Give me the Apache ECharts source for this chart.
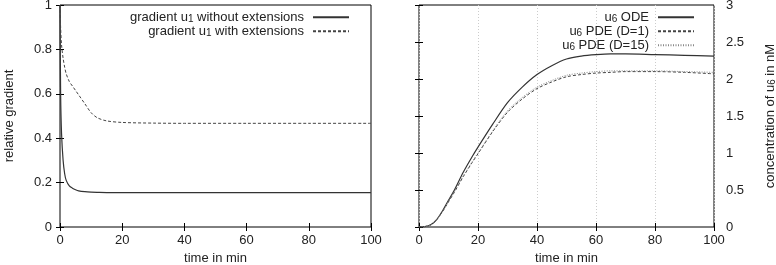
<!DOCTYPE html>
<html>
<head>
<meta charset="utf-8">
<script src="https://cdn.jsdelivr.net/npm/echarts@6/dist/echarts.min.js"></script>
<style>
  html, body { margin: 0; padding: 0; background: #fff; }
  #main { width: 776px; height: 265px; }
</style>
</head>
<body>
<div id="main"></div>
<script>
// 左图：相对梯度
var tLeft = [0, 0.2, 0.5, 1, 1.5, 2, 3, 4, 5, 6, 8, 10, 12, 15, 20, 30, 40, 60, 80, 100];
var gradNoExt = [1, 0.6, 0.42, 0.30, 0.24, 0.21, 0.185, 0.175, 0.168, 0.163, 0.159, 0.157, 0.156, 0.155, 0.155, 0.155, 0.155, 0.155, 0.155, 0.155];
var gradExt = [1, 0.9, 0.82, 0.76, 0.72, 0.69, 0.655, 0.635, 0.615, 0.595, 0.555, 0.515, 0.492, 0.478, 0.471, 0.468, 0.467, 0.467, 0.467, 0.467];

// 右图：u6 浓度
var tRight = [0, 2, 4, 6, 8, 10, 12, 15, 18, 20, 25, 30, 35, 40, 45, 50, 55, 60, 65, 70, 80, 90, 100];
var u6Ode = [0, 0.005, 0.03, 0.1, 0.22, 0.36, 0.5, 0.74, 0.95, 1.08, 1.39, 1.68, 1.89, 2.06, 2.18, 2.27, 2.31, 2.33, 2.34, 2.34, 2.33, 2.32, 2.31];
var u6Pde1 = [0, 0.005, 0.03, 0.1, 0.21, 0.34, 0.47, 0.68, 0.87, 0.99, 1.29, 1.55, 1.73, 1.87, 1.96, 2.03, 2.06, 2.08, 2.09, 2.10, 2.10, 2.09, 2.07];
var u6Pde15 = [0, 0.005, 0.03, 0.1, 0.21, 0.35, 0.48, 0.69, 0.88, 1.0, 1.30, 1.57, 1.75, 1.89, 1.98, 2.05, 2.08, 2.10, 2.11, 2.11, 2.11, 2.10, 2.09];

function pairs(t, v) {
    var out = [];
    for (var i = 0; i < t.length; i++) out.push([t[i], v[i]]);
    return out;
}

var myChart = echarts.init(document.getElementById('main'));

var font = 'Liberation Sans, Arial, sans-serif';
var txt = '#222';
var fs = 13;
var richSub = {
    s: { fontSize: 10, lineHeight: 10, padding: [4, 0, 0, 0], verticalAlign: 'bottom', color: txt, fontFamily: font }
};

// 图例里的下标
var legendNames = {
    'gradient u1 without extensions': 'gradient u{s|1} without extensions',
    'gradient u1 with extensions': 'gradient u{s|1} with extensions',
    'u6 ODE': 'u{s|6} ODE',
    'u6 PDE (D=1)': 'u{s|6} PDE (D=1)',
    'u6 PDE (D=15)': 'u{s|6} PDE (D=15)'
};

function xAxisBase(grid, pos, main) {
    return {
        type: 'value', gridIndex: grid, position: pos,
        min: 0, max: 100, interval: 20,
        axisLine: { show: false },
        axisTick: { show: true, inside: true, length: 4, lineStyle: { color: '#000' } },
        axisLabel: { show: main, margin: 7, fontSize: fs, color: txt, fontFamily: font },
        splitLine: { show: false },
        name: main ? 'time in min' : '',
        nameLocation: 'middle', nameGap: 24,
        nameTextStyle: { fontSize: fs, color: txt, fontFamily: font }
    };
}

function legendBase(names, right) {
    return {
        data: names,
        orient: 'vertical', align: 'right', right: right, top: 5,
        itemWidth: 36, itemHeight: 10, itemGap: 0,
        itemStyle: { opacity: 0 },
        formatter: function (n) { return legendNames[n]; },
        textStyle: { fontSize: fs, lineHeight: 13.5, color: txt, fontFamily: font, padding: [0, 4, 0, 0], rich: richSub }
    };
}

var option = {
    backgroundColor: '#fff',
    animation: false,
    textStyle: { fontFamily: font },
    grid: [
        { left: 60, right: 405, top: 5, bottom: 38, outerBoundsMode: 'none', show: true, borderColor: '#000', borderWidth: 1 },
        { left: 419, right: 62, top: 5, bottom: 38, outerBoundsMode: 'none', show: true, borderColor: '#000', borderWidth: 1 }
    ],
    legend: [
        legendBase(['gradient u1 without extensions', 'gradient u1 with extensions'], 421),
        legendBase(['u6 ODE', 'u6 PDE (D=1)', 'u6 PDE (D=15)'], 76)
    ],
    xAxis: [
        xAxisBase(0, 'bottom', true),
        xAxisBase(0, 'top', false),
        (function () {
            var a = xAxisBase(1, 'bottom', true);
            a.splitLine = { show: true, lineStyle: { color: '#ccc', type: [1, 2], width: 1 } };
            return a;
        })(),
        xAxisBase(1, 'top', false)
    ],
    yAxis: [
        {
            type: 'value', gridIndex: 0, position: 'left',
            min: 0, max: 1, interval: 0.2,
            axisLine: { show: false },
            axisTick: { show: true, inside: true, length: 4, lineStyle: { color: '#000' } },
            axisLabel: { margin: 8, fontSize: fs, color: txt, fontFamily: font },
            splitLine: { show: false },
            name: 'relative gradient', nameLocation: 'middle', nameGap: 44,
            nameTextStyle: { fontSize: fs, color: txt, fontFamily: font }
        },
        {
            type: 'value', gridIndex: 0, position: 'right',
            min: 0, max: 1, interval: 0.2,
            axisLine: { show: false },
            axisTick: { show: true, inside: true, length: 4, lineStyle: { color: '#000' } },
            axisLabel: { show: false },
            splitLine: { show: false }
        },
        {
            type: 'value', gridIndex: 1, position: 'right',
            min: 0, max: 3, interval: 0.5,
            axisLine: { show: false },
            axisTick: { show: true, inside: true, length: 4, lineStyle: { color: '#000' } },
            axisLabel: { margin: 12, fontSize: fs, color: txt, fontFamily: font },
            splitLine: { show: false },
            name: 'concentration of u{s|6} in nM', nameLocation: 'middle', nameGap: 50,
            nameRotate: 90,
            nameTextStyle: { fontSize: fs, color: txt, fontFamily: font, rich: richSub }
        },
        {
            type: 'value', gridIndex: 1, position: 'left',
            min: 0, max: 3, interval: 0.5,
            axisLine: { show: false },
            axisTick: { show: true, inside: true, length: 4, lineStyle: { color: '#000' } },
            axisLabel: { show: false },
            splitLine: { show: false }
        }
    ],
    series: [
        {
            name: 'gradient u1 without extensions', type: 'line', xAxisIndex: 0, yAxisIndex: 0,
            data: pairs(tLeft, gradNoExt), showSymbol: false, symbol: 'none', smooth: 0.3,
            lineStyle: { color: '#333', width: 1.2 }, itemStyle: { color: '#333' }
        },
        {
            name: 'gradient u1 with extensions', type: 'line', xAxisIndex: 0, yAxisIndex: 0,
            data: pairs(tLeft, gradExt), showSymbol: false, symbol: 'none', smooth: 0.3,
            lineStyle: { color: '#444', width: 1, type: [3, 2] }, itemStyle: { color: '#444' }
        },
        {
            name: 'u6 ODE', type: 'line', xAxisIndex: 2, yAxisIndex: 2,
            data: pairs(tRight, u6Ode), showSymbol: false, symbol: 'none', smooth: 0.3,
            lineStyle: { color: '#333', width: 1.2 }, itemStyle: { color: '#333' }
        },
        {
            name: 'u6 PDE (D=1)', type: 'line', xAxisIndex: 2, yAxisIndex: 2,
            data: pairs(tRight, u6Pde1), showSymbol: false, symbol: 'none', smooth: 0.3,
            lineStyle: { color: '#444', width: 1, type: [3, 2] }, itemStyle: { color: '#444' }
        },
        {
            name: 'u6 PDE (D=15)', type: 'line', xAxisIndex: 2, yAxisIndex: 2,
            data: pairs(tRight, u6Pde15), showSymbol: false, symbol: 'none', smooth: 0.3,
            lineStyle: { color: '#888', width: 1, type: [1, 1.5] }, itemStyle: { color: '#888' }
        }
    ]
};

myChart.setOption(option);
</script>
</body>
</html>
